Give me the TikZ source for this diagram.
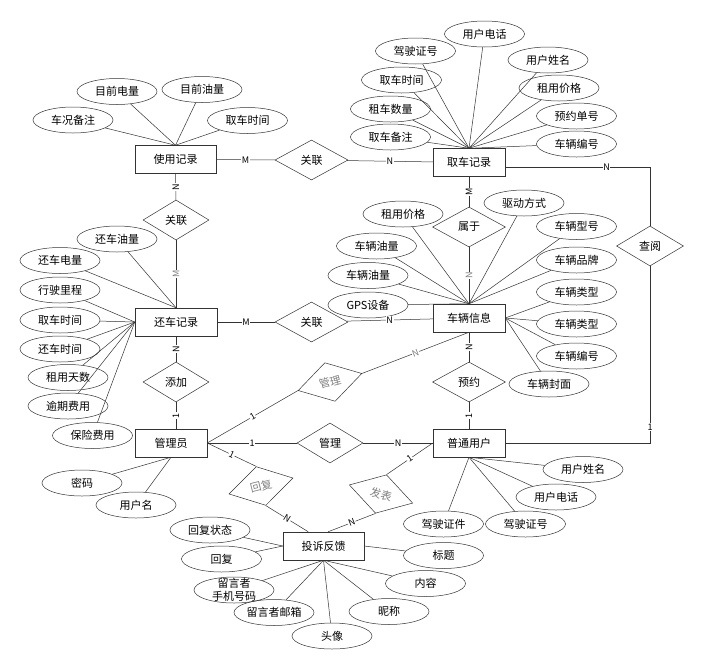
\documentclass[tikz,border=0pt]{standalone}
\usepackage{fontspec}
\setmainfont{Noto Sans CJK SC}
\usetikzlibrary{shapes.geometric}
\tikzset{
  entidad/.style={draw, rectangle, minimum width=72pt, minimum height=28pt, inner sep=1pt},
  atributo/.style={draw, ellipse, minimum width=80pt, minimum height=26pt, inner sep=0pt},
  relacion/.style={draw, diamond, minimum width=66pt, minimum height=40pt, inner sep=0pt},
  card/.style={fill=white, inner sep=0.6pt, font=\fontsize{9}{10}\selectfont},
}
\begin{document}
\begin{tikzpicture}[x=1pt, y=-1pt, line width=0.5pt, draw=black!80, font=\fontsize{11}{13}\selectfont]
\useasboundingbox (0,0) rectangle (704,670);
% Entidades
\node [entidad, minimum width=81pt] (sy) at (175.5,159.5) {使用记录};
\node [entidad] (qc) at (469,162.5) {取车记录};
\node [entidad, minimum width=82pt] (hc) at (176,322) {还车记录};
\node [entidad] (cl) at (469,318) {车辆信息};
\node [entidad] (gly) at (171,443) {管理员};
\node [entidad] (pt) at (469,443) {普通用户};
\node [entidad, minimum width=81pt] (fk) at (323.5,546) {投诉反馈};
% Relaciones
\node [relacion, minimum width=73pt] (gl1) at (311.5,160) {关联};
\node [relacion, minimum width=73pt] (gl2) at (311.5,322) {关联};
\node [relacion] (gl3) at (176,220) {关联};
\node [relacion] (tj) at (176,382) {添加};
\node [relacion, minimum width=73pt] (sy2) at (469,227) {属于};
\node [relacion, minimum width=73pt] (yy) at (469,382) {预约};
\node [relacion, minimum width=67pt] (cy) at (650,246) {查阅};
\node [relacion] (gl4) at (330,443) {管理};
\node [relacion, rotate=15, text=gray] (gl5) at (330,382) {管理};
\node [relacion, rotate=14, text=gray] (hf) at (261,486) {回复};
\node [relacion, rotate=-16, text=gray] (fb) at (381,494) {发表};
% Atributos
% ---
% 使用记录
% ---
\node [atributo] (sa1) at (73,120) {车况备注};
\node [atributo] (sa2) at (117,91.5) {目前电量};
\node [atributo] (sa3) at (202,89.5) {目前油量};
\node [atributo] (sa4) at (247.5,120.5) {取车时间};
\path (sa1) edge (sy.north);
\path (sa2) edge (sy.north);
\path (sa3) edge (sy.north);
\path (sa4) edge (sy.north);
% ---
% 取车记录
% ---
\node [atributo] (qa1) at (415.5,51) {驾驶证号};
\node [atributo] (qa2) at (484.5,34) {用户电话};
\node [atributo] (qa3) at (548,60) {用户姓名};
\node [atributo] (qa4) at (401.5,80) {取车时间};
\node [atributo] (qa5) at (559,88) {租用价格};
\node [atributo] (qa6) at (390.5,109) {租车数量};
\node [atributo] (qa7) at (576.5,116) {预约单号};
\node [atributo] (qa8) at (390.5,137) {取车备注};
\node [atributo] (qa9) at (576.5,144) {车辆编号};
\path (qa1) edge (qc.north);
\path (qa2) edge (qc.north);
\path (qa3) edge (qc.north);
\path (qa4) edge (qc.north);
\path (qa5) edge (qc.north);
\path (qa6) edge (qc.north);
\path (qa7) edge (qc.north);
\path (qa8) edge (qc.north);
\path (qa9) edge (qc.north);
% ---
% 还车记录
% ---
\node [atributo] (ha1) at (117,239) {还车油量};
\node [atributo] (ha2) at (60,260.5) {还车电量};
\node [atributo] (ha3) at (60,290) {行驶里程};
\node [atributo] (ha4) at (60,320) {取车时间};
\node [atributo] (ha5) at (60,349) {还车时间};
\node [atributo] (ha6) at (68,377.5) {租用天数};
\node [atributo] (ha7) at (68,406) {逾期费用};
\node [atributo] (ha8) at (92.5,435.5) {保险费用};
\path (ha1) edge (hc.north);
\path (ha2) edge (hc.north);
\path (ha3) edge (hc.west);
\path (ha4) edge (hc.west);
\path (ha5) edge (hc.west);
\path (ha6) edge (hc.west);
\path (ha7) edge (hc.west);
\path (ha8) edge (hc.west);
% ---
% 车辆信息
% ---
\node [atributo] (ca1) at (403,214) {租用价格};
\node [atributo] (ca2) at (524,203) {驱动方式};
\node [atributo] (ca3) at (576.5,226.5) {车辆型号};
\node [atributo] (ca4) at (376.5,246) {车辆油量};
\node [atributo] (ca5) at (576.5,260) {车辆品牌};
\node [atributo] (ca6) at (368,275.5) {车辆油量};
\node [atributo] (ca7) at (576.5,292) {车辆类型};
\node [atributo] (ca8) at (368,305) {GPS设备};
\node [atributo] (ca9) at (576.5,324) {车辆类型};
\node [atributo] (ca10) at (576.5,356) {车辆编号};
\node [atributo] (ca11) at (549,384) {车辆封面};
\path (ca1) edge (cl.north);
\path (ca2) edge (cl.north);
\path (ca3) edge (cl.north);
\path (ca4) edge (cl.north);
\path (ca5) edge (cl.north);
\path (ca6) edge (cl.north);
\path (ca8) edge (cl.north);
\path (ca7) edge (cl.east);
\path (ca9) edge (cl.east);
\path (ca10) edge (cl.east);
\path (ca11) edge (cl.east);
% ---
% 管理员 / 普通用户
% ---
\node [atributo] (ga1) at (82,483) {密码};
\node [atributo] (ga2) at (136,505) {用户名};
\path (ga1) edge (gly.south);
\path (ga2) edge (gly.south);
\node [atributo] (pa1) at (583,469.5) {用户姓名};
\node [atributo] (pa2) at (556,497) {用户电话};
\node [atributo] (pa3) at (443.5,524) {驾驶证件};
\node [atributo] (pa4) at (525.5,524) {驾驶证号};
\path (pa1) edge (pt.south);
\path (pa2) edge (pt.south);
\path (pa3) edge (pt.south);
\path (pa4) edge (pt.south);
% ---
% 投诉反馈
% ---
\node [atributo] (fa1) at (210,530) {回复状态};
\node [atributo] (fa2) at (221.5,559) {回复};
\node [atributo, label={[align=center, inner sep=0pt]center:留言者\\手机号码}] (fa3) at (234,590) {};
\node [atributo] (fa4) at (274,612.5) {留言者邮箱};
\node [atributo] (fa5) at (332,636) {头像};
\node [atributo] (fa6) at (389,611.5) {昵称};
\node [atributo] (fa7) at (425.5,583.5) {内容};
\node [atributo] (fa8) at (443.5,555.5) {标题};
\path (fa1) edge (fk.west);
\path (fa2) edge (fk.west);
\path (fa3) edge (fk.south);
\path (fa4) edge (fk.south);
\path (fa5) edge (fk.south);
\path (fa6) edge (fk.south);
\path (fa7) edge (fk.south);
\path (fa8) edge (fk.east);
% Ejes
\path (sy) edge node [card] {M} (gl1);
\path (gl1) edge node [card] {N} (qc);
\path (sy) edge node [card, rotate=90] {N} (gl3);
\path (gl3) edge node [card, rotate=90, text=gray] {M} (hc);
\path (hc) edge node [card] {M} (gl2);
\path (gl2) edge node [card] {N} (cl);
\path (hc) edge node [card, rotate=90] {N} (tj);
\path (tj.south) edge node [card, rotate=90] {1} (tj.south |- gly.north);
\path (qc) edge node [card, rotate=90] {M} (sy2);
\path (sy2) edge node [card, rotate=90, text=gray] {N} (cl);
\path (cl) edge node [card, rotate=90] {N} (yy);
\path (yy) edge node [card, rotate=90] {1} (pt);
\path (gly) edge node [card] {1} (gl4);
\path (gl4) edge node [card] {N} (pt);
\path (gly.east) edge node [card, sloped] {1} (gl5.west);
\path (gl5.east) edge node [card, sloped, text=gray] {N} (cl.south);
\path (gly.east) edge node [card, sloped] {1} (hf.north);
\path (hf.south) edge node [card, sloped] {N} (fk.137);
\path (pt.west) edge node [card, sloped] {1} (fb.north);
\path (fb.south) edge node [card, sloped] {N} (fk.72);
\draw (qc.-8) -| node [card, pos=0.35] {N} (cy.north);
\draw (cy.south) |- node [card, pos=0.455] {1} (pt.east);
\end{tikzpicture}
\end{document}
